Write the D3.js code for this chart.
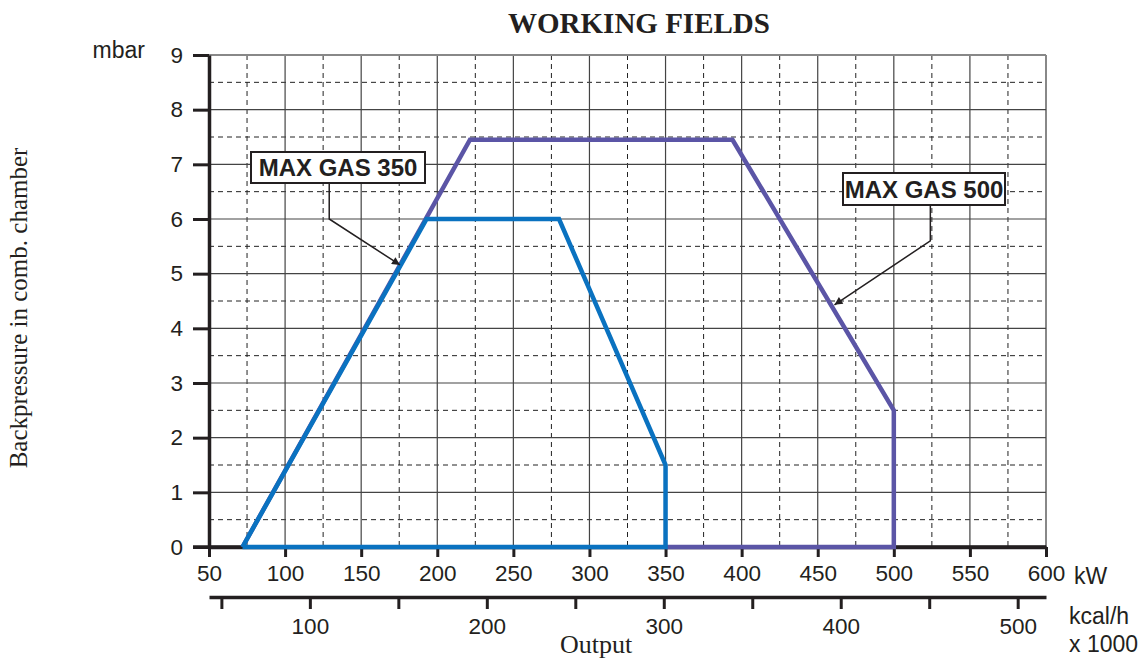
<!DOCTYPE html>
<html>
<head>
<meta charset="utf-8">
<script src="https://cdn.jsdelivr.net/npm/d3@7/dist/d3.min.js"></script>
<style>
  html, body { margin: 0; padding: 0; background: #fff; }
  svg { display: block; }
</style>
</head>
<body>
<svg id="chart" width="1144" height="659"></svg>
<script>
// ---- data ----
const kWTicks = [50, 100, 150, 200, 250, 300, 350, 400, 450, 500, 550, 600];
const kcalTicks = [50, 100, 150, 200, 250, 300, 350, 400, 450, 500];
const kcalLabels = [100, 200, 300, 400, 500];
const mbarTicks = [0, 1, 2, 3, 4, 5, 6, 7, 8, 9];
const maxGas350 = [[72, 0], [193, 6], [280, 6], [350, 1.5], [350, 0], [72, 0]];
const maxGas500 = [[350, 0], [500, 0], [500, 2.5], [394, 7.45], [221.5, 7.45], [72, 0]];
const labels = [
  { text: "MAX GAS 350", box: [251, 152, 425, 183], elbow: [129, 6.0], tip: [175.5, 5.16] },
  { text: "MAX GAS 500", box: [843, 173, 1005, 205], elbow: [524, 5.6], tip: [461, 4.43] }
];

const svg = d3.select("#chart");
const x = d3.scaleLinear().domain([50, 600]).range([209, 1046]);
const y = d3.scaleLinear().domain([0, 9]).range([547, 55]);
const xk = d3.scaleLinear().domain([50 * 0.86, 600 * 0.86]).range([209, 1046]);

const sans = "'Liberation Sans', Arial, Helvetica, sans-serif";
const serif = "'Liberation Serif', 'Times New Roman', serif";

// ---- grid ----
const g = svg.append("g");
const halfX = d3.range(75, 600, 50);
const halfY = d3.range(0.5, 9, 1);
g.selectAll(".vd").data(halfX).join("line")
  .attr("x1", d => x(d)).attr("x2", d => x(d)).attr("y1", y(9)).attr("y2", y(0))
  .attr("stroke", "#222").attr("stroke-width", 1).attr("stroke-dasharray", "5,4");
g.selectAll(".hd").data(halfY).join("line")
  .attr("y1", d => y(d)).attr("y2", d => y(d)).attr("x1", x(50)).attr("x2", x(600))
  .attr("stroke", "#222").attr("stroke-width", 1).attr("stroke-dasharray", "5,4");
g.selectAll(".vs").data(kWTicks.slice(1)).join("line")
  .attr("x1", d => x(d)).attr("x2", d => x(d)).attr("y1", y(9)).attr("y2", y(0))
  .attr("stroke", d => d === 600 ? "#888" : "#444").attr("stroke-width", d => d === 600 ? 2 : 1.2);
g.selectAll(".hs").data(mbarTicks.slice(1)).join("line")
  .attr("y1", d => y(d)).attr("y2", d => y(d)).attr("x1", x(50)).attr("x2", x(600))
  .attr("stroke", d => d === 9 ? "#888" : "#444").attr("stroke-width", d => d === 9 ? 2 : 1.2);

// ---- axes ----
const yAxis = svg.append("g").attr("transform", `translate(${x(50)},0)`)
  .call(d3.axisLeft(y).tickValues(mbarTicks).tickSize(16).tickSizeOuter(0).tickPadding(10));
const xAxis = svg.append("g").attr("transform", `translate(0,${y(0)})`)
  .call(d3.axisBottom(x).tickValues(kWTicks).tickSize(10).tickSizeOuter(0).tickPadding(8));
const kAxis = svg.append("g").attr("transform", `translate(0,597)`)
  .call(d3.axisBottom(xk).tickValues(kcalTicks).tickSize(12).tickSizeOuter(0).tickPadding(9)
    .tickFormat(d => kcalLabels.includes(d) ? d : ""));
[yAxis, xAxis, kAxis].forEach(a => {
  a.select(".domain").attr("stroke", "#231f20").attr("stroke-width", 3.5);
  a.selectAll(".tick line").attr("stroke", "#231f20").attr("stroke-width", 3);
  a.selectAll(".tick text").attr("font-family", sans).attr("font-size", 22.5).attr("fill", "#231f20");
});
svg.append("line").attr("x1", x(50) - 16).attr("x2", x(600)).attr("y1", y(0)).attr("y2", y(0))
  .attr("stroke", "#231f20").attr("stroke-width", 3.5);

// ---- series ----
const line = d3.line().x(d => x(d[0])).y(d => y(d[1]));
svg.append("path").datum(maxGas500).attr("d", line)
  .attr("fill", "none").attr("stroke", "#5b55a6").attr("stroke-width", 4.5).attr("stroke-linejoin", "miter");
svg.append("path").datum(maxGas350).attr("d", line)
  .attr("fill", "none").attr("stroke", "#0a72c0").attr("stroke-width", 4.5).attr("stroke-linejoin", "miter");

// ---- callouts ----
const defs = svg.append("defs");
defs.append("marker").attr("id", "arr").attr("viewBox", "0 0 10 10").attr("refX", 10).attr("refY", 5)
  .attr("markerWidth", 15).attr("markerHeight", 8).attr("markerUnits", "userSpaceOnUse").attr("orient", "auto")
  .append("path").attr("d", "M0,0 L10,5 L0,10 Z").attr("fill", "#231f20");
labels.forEach(l => {
  const [x0, y0, x1, y1] = l.box;
  const cx = x(l.elbow[0]);
  svg.append("path")
    .attr("d", `M${cx},${y1} L${cx},${y(l.elbow[1])} L${x(l.tip[0])},${y(l.tip[1])}`)
    .attr("fill", "none").attr("stroke", "#231f20").attr("stroke-width", 1.5).attr("marker-end", "url(#arr)");
  svg.append("rect").attr("x", x0).attr("y", y0).attr("width", x1 - x0).attr("height", y1 - y0)
    .attr("fill", "#fff").attr("stroke", "#231f20").attr("stroke-width", 2);
  svg.append("text").attr("x", (x0 + x1) / 2).attr("y", y1 - 7).attr("text-anchor", "middle")
    .attr("font-family", sans).attr("font-weight", "bold").attr("font-size", 24).attr("fill", "#231f20")
    .text(l.text);
});

// ---- texts ----
svg.append("text").attr("x", 639).attr("y", 33).attr("text-anchor", "middle")
  .attr("font-family", serif).attr("font-weight", "bold").attr("font-size", 29).attr("fill", "#231f20")
  .text("WORKING FIELDS");
svg.append("text").attr("x", 145).attr("y", 58).attr("text-anchor", "end")
  .attr("font-family", sans).attr("font-size", 23).attr("fill", "#231f20").text("mbar");
svg.append("text").attr("x", 1074).attr("y", 584)
  .attr("font-family", sans).attr("font-size", 23).attr("fill", "#231f20").text("kW");
svg.append("text").attr("x", 1069).attr("y", 624)
  .attr("font-family", sans).attr("font-size", 23).attr("fill", "#231f20").text("kcal/h");
svg.append("text").attr("x", 1069).attr("y", 652)
  .attr("font-family", sans).attr("font-size", 23).attr("fill", "#231f20").text("x 1000");
svg.append("text").attr("x", 596).attr("y", 653).attr("text-anchor", "middle")
  .attr("font-family", serif).attr("font-size", 26).attr("fill", "#231f20").text("Output");
svg.append("text").attr("transform", "translate(27,308) rotate(-90)").attr("text-anchor", "middle")
  .attr("font-family", serif).attr("font-size", 25).attr("fill", "#231f20")
  .text("Backpressure in comb. chamber");
</script>
</body>
</html>
